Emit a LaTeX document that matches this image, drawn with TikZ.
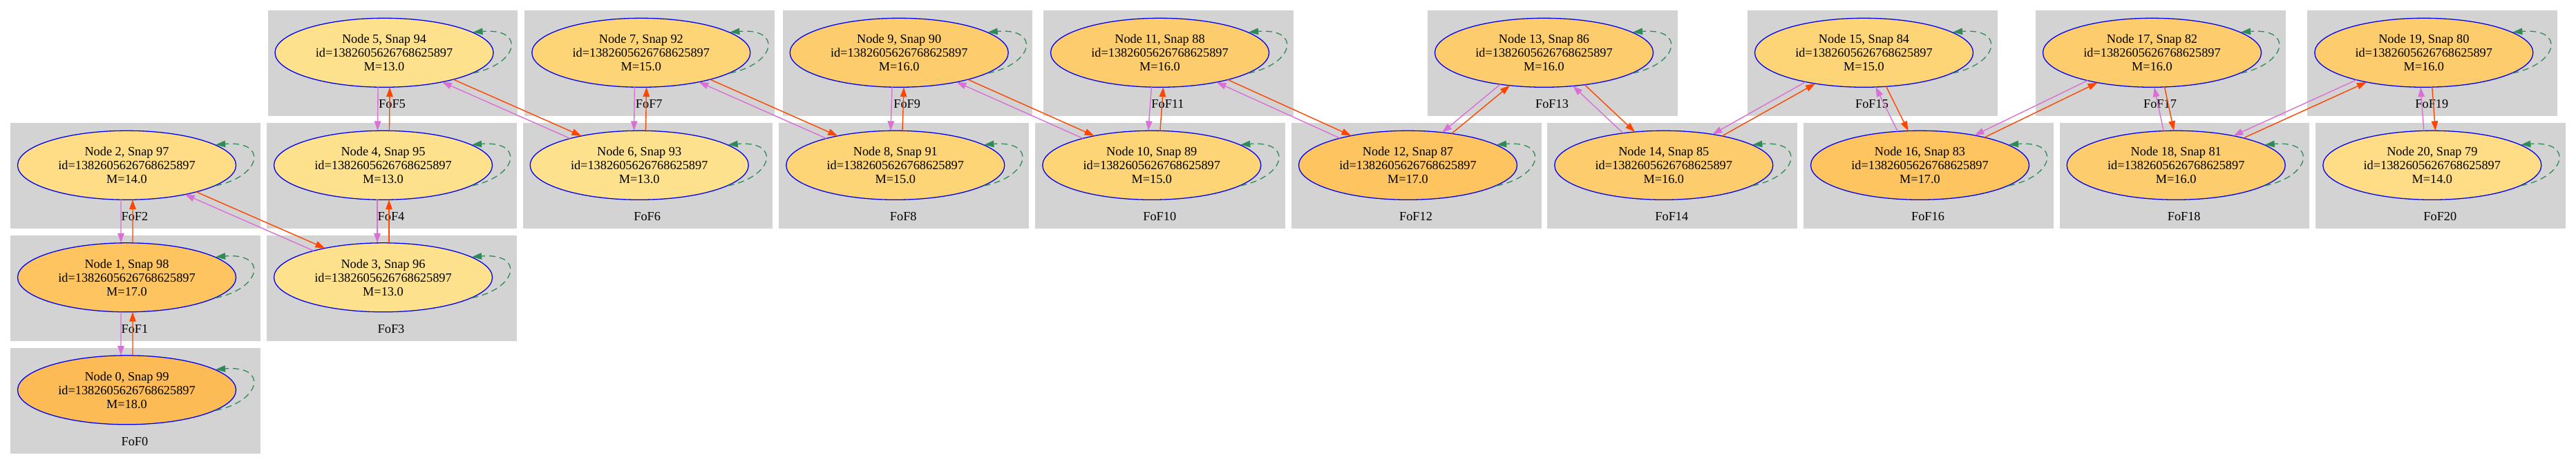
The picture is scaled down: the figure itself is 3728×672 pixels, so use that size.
\documentclass[tikz,border=0pt]{standalone}
\usepackage{fontspec}
\setmainfont{Liberation Serif}
\usetikzlibrary{shapes.geometric,arrows.meta,calc,intersections}
\definecolor{boxgray}{RGB}{211,211,211}
\definecolor{nodeblue}{RGB}{0,0,255}
\definecolor{pinkc}{RGB}{218,112,214}
\definecolor{redc}{RGB}{255,69,0}
\definecolor{loopc}{RGB}{46,139,87}
\definecolor{mA}{RGB}{254,225,140}
\definecolor{mB}{RGB}{254,221,134}
\definecolor{mC}{RGB}{254,213,118}
\definecolor{mD}{RGB}{253,205,109}
\definecolor{mE}{RGB}{253,196,96}
\definecolor{mF}{RGB}{253,187,86}
\tikzset{
  fofbox/.style={fill=boxgray},
  fofnode/.style={ellipse, draw=nodeblue, line width=1.3bp, minimum width=316bp,
    minimum height=100bp, inner sep=0pt, align=center,
    font=\fontsize{18.3bp}{20bp}\selectfont},
  foftext/.style={inner sep=0pt, font=\fontsize{18.3bp}{20bp}\selectfont},
  pinkarrow/.style={draw=pinkc, line width=1.4bp, -{Triangle[length=14bp,width=9.5bp]}},
  redarrow/.style={draw=redc, line width=1.4bp, -{Triangle[length=14bp,width=9.5bp]}},
  selfloop/.style={draw=loopc, line width=1.3bp, dash pattern=on 9bp off 6bp,
    -{Triangle[length=14bp,width=9.5bp]}}
}
% #1 index, #2 snap, #3 box left, #4 box top, #5 mass, #6 fill colour
\newcommand\fof[6]{%
  \fill[fofbox] (#3,#4) rectangle ++(361.5,153);
  \node[foftext] (L#1) at (#3+180,#4+136) {FoF#1};
  \node[fofnode, fill=#6, name path=e#1] (n#1) at (#3+168.5,#4+61.3)
    {Node #1, Snap #2\\id=1382605626768625897\\M=#5};
  \draw[selfloop] (n#1.-13) .. controls ($(n#1)+(195,16)$) and ($(n#1)+(205,-36)$) .. (n#1.13);
}
% #1 top node, #2 bottom node, #3 offset, #4 = 1 if pink runs top->bottom
\newcommand\twoedges[4]{%
  \path[name path=lnA] ($(n#1)!#3bp!-90:(n#2)$) -- ($(n#2)!#3bp!90:(n#1)$);
  \path[name intersections={of=e#1 and lnA, by=aT}];
  \path[name intersections={of=e#2 and lnA, by=aB}];
  \path[name path=lnB] ($(n#1)!#3bp!90:(n#2)$) -- ($(n#2)!#3bp!-90:(n#1)$);
  \path[name intersections={of=e#1 and lnB, by=bT}];
  \path[name intersections={of=e#2 and lnB, by=bB}];
  \ifnum#4=1
    \draw[pinkarrow] (aT) -- (aB);
    \draw[redarrow] (bB) -- (bT);
  \else
    \draw[pinkarrow] (aB) -- (aT);
    \draw[redarrow] (bT) -- (bB);
  \fi
}
\begin{document}
\begin{tikzpicture}[x=1bp,y=-1bp]
\fill[white] (0,0) rectangle (3728,672);
\useasboundingbox (0,0) rectangle (3728,672);
\fof{0}{99}{15}{503.5}{18.0}{mF}
\fof{1}{98}{15}{340.5}{17.0}{mE}
\fof{2}{97}{15}{178}{14.0}{mB}
\fof{3}{96}{386}{340.5}{13.0}{mA}
\fof{4}{95}{386}{178}{13.0}{mA}
\fof{5}{94}{387.5}{15}{13.0}{mA}
\fof{6}{93}{756.7}{178}{13.0}{mA}
\fof{7}{92}{759.3}{15}{15.0}{mC}
\fof{8}{91}{1127.3}{178}{15.0}{mC}
\fof{9}{90}{1132.7}{15}{16.0}{mD}
\fof{10}{89}{1498.3}{178}{15.0}{mC}
\fof{11}{88}{1510}{15}{16.0}{mD}
\fof{12}{87}{1869}{178}{17.0}{mE}
\fof{13}{86}{2066}{15}{16.0}{mD}
\fof{14}{85}{2239.3}{178}{16.0}{mD}
\fof{15}{84}{2529}{15}{15.0}{mC}
\fof{16}{83}{2610}{178}{17.0}{mE}
\fof{17}{82}{2946}{15}{16.0}{mD}
\fof{18}{81}{2980.7}{178}{16.0}{mD}
\fof{19}{80}{3339.3}{15}{16.0}{mD}
\fof{20}{79}{3351.3}{178}{14.0}{mB}
\twoedges{1}{0}{8.5}{1}
\twoedges{2}{1}{8.5}{1}
\twoedges{2}{3}{5}{0}
\twoedges{4}{3}{8.5}{1}
\twoedges{5}{4}{8.5}{1}
\twoedges{5}{6}{5}{0}
\twoedges{7}{6}{8.5}{1}
\twoedges{7}{8}{5}{0}
\twoedges{9}{8}{8.5}{1}
\twoedges{9}{10}{5}{0}
\twoedges{11}{10}{8.5}{1}
\twoedges{11}{12}{5}{0}
\twoedges{13}{12}{5}{1}
\twoedges{13}{14}{6.5}{0}
\twoedges{15}{14}{4.5}{1}
\twoedges{15}{16}{7}{0}
\twoedges{17}{16}{4.5}{1}
\twoedges{17}{18}{7.3}{0}
\twoedges{19}{18}{4.5}{1}
\twoedges{19}{20}{8.3}{0}
\end{tikzpicture}
\end{document}
